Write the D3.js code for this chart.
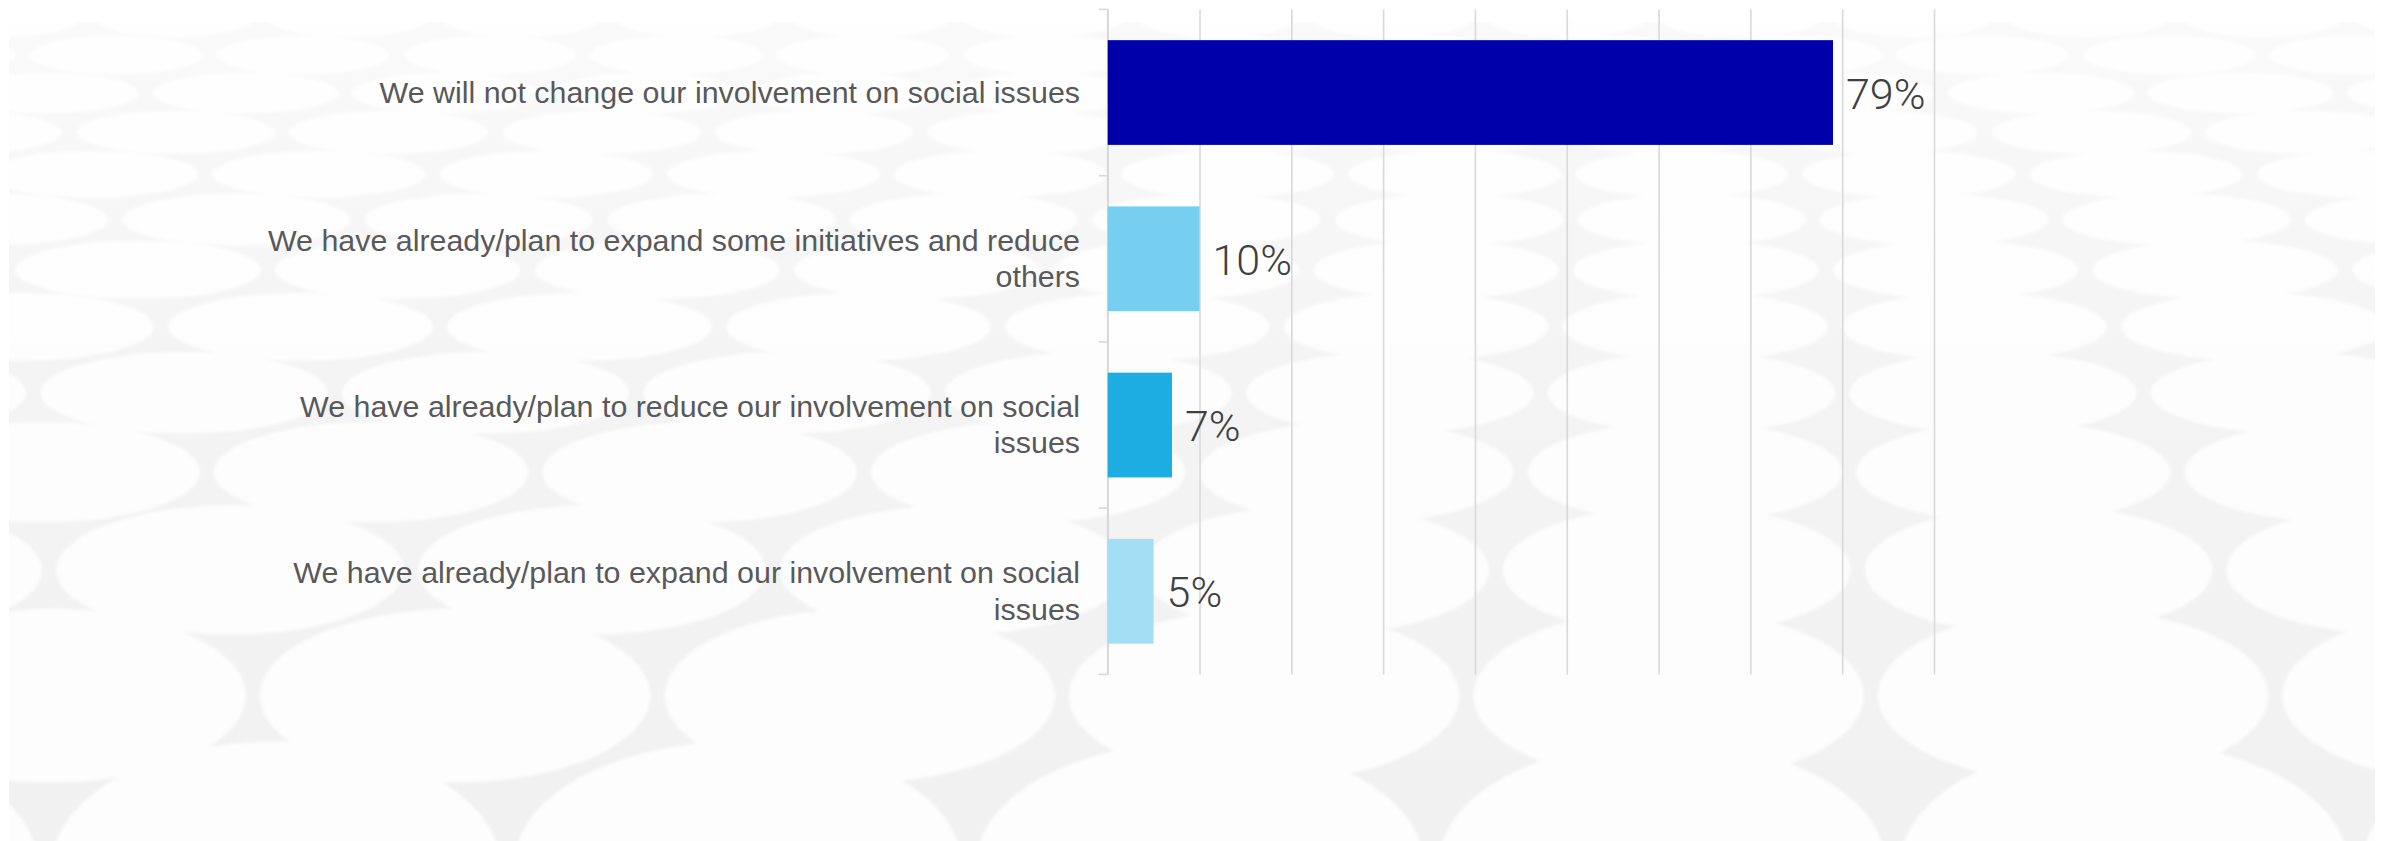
<!DOCTYPE html>
<html>
<head>
<meta charset="utf-8">
<script src="https://cdn.jsdelivr.net/npm/d3@7"></script>
<style>
  html, body { margin: 0; padding: 0; background: #ffffff; }
  svg { display: block; }
</style>
</head>
<body>
<svg id="chart" width="2389" height="841"></svg>
<script>
// Survey answers, shares in percent
const categories = [
  "We will not change our involvement on social issues",
  "We have already/plan to expand some initiatives and reduce others",
  "We have already/plan to reduce our involvement on social issues",
  "We have already/plan to expand our involvement on social issues"
];
const values = [79, 10, 7, 5];
const barColors = ["#0000AA", "#76CEF1", "#1DADE3", "#A3DEF4"];
const xTicks = [0, 10, 20, 30, 40, 50, 60, 70, 80, 90];

const W = 2389, H = 841;
const svg = d3.select("#chart");

// ---- decorative background: soft white discs on a light grey field ----
const defs = svg.append("defs");
defs.append("filter").attr("id", "soft")
  .attr("x", "-10%").attr("y", "-10%").attr("width", "120%").attr("height", "120%")
  .append("feGaussianBlur").attr("stdDeviation", 1.6);
const fade = defs.append("linearGradient").attr("id", "fade")
  .attr("x1", 0).attr("y1", 0).attr("x2", 0).attr("y2", 1);
fade.append("stop").attr("offset", "0%").attr("stop-color", "#fff").attr("stop-opacity", 0.6);
fade.append("stop").attr("offset", "45%").attr("stop-color", "#fff").attr("stop-opacity", 0.2);
fade.append("stop").attr("offset", "100%").attr("stop-color", "#fff").attr("stop-opacity", 0);
defs.append("clipPath").attr("id", "bgclip")
  .append("rect").attr("x", 9).attr("y", 22).attr("width", 2366).attr("height", H - 22);

const bg = svg.append("g").attr("clip-path", "url(#bgclip)");
bg.append("rect").attr("x", 9).attr("y", 22).attr("width", 2366).attr("height", H - 22)
  .attr("fill", "#f1f1f1");

const discs = [];
{
  let cy = 18, row = 0;
  while (cy < H + 120) {
    const rx = 80 + 0.17 * (cy - 18);
    const ry = 19 + 0.00014 * cy * cy;
    const pitch = 2 * rx + 14;
    const shift = (row % 2) * pitch / 2 + row * 23;
    for (let cx = -pitch + (shift % pitch); cx < W + pitch; cx += pitch) {
      discs.push({ cx, cy, rx, ry });
    }
    cy += ry * 1.95;
    row++;
  }
}
bg.append("g").attr("filter", "url(#soft)")
  .selectAll("ellipse").data(discs).join("ellipse")
  .attr("cx", d => d.cx).attr("cy", d => d.cy)
  .attr("rx", d => d.rx).attr("ry", d => d.ry)
  .attr("fill", "#fdfdfd");
bg.append("rect").attr("x", 9).attr("y", 22).attr("width", 2366).attr("height", H - 22)
  .attr("fill", "url(#fade)");

// ---- plot area ----
const plotLeft = 1107.7, plotTop = 9.4, plotW = 826.3, plotH = 665;
const g = svg.append("g").attr("transform", `translate(${plotLeft},${plotTop})`);

const x = d3.scaleLinear().domain([0, 90]).range([0, plotW]);
const y = d3.scaleBand().domain(categories).range([0, plotH])
  .paddingInner(0.37).paddingOuter(0.185);

// vertical gridlines
const grid = g.append("g")
  .call(d3.axisBottom(x).tickValues(xTicks).tickSize(plotH).tickFormat(""));
grid.select(".domain").remove();
grid.selectAll(".tick line").attr("stroke", "#d9d9d9").attr("stroke-width", 1.6);

// category axis with tick marks between categories
const bounds = d3.range(categories.length + 1).map(i => i * y.step());
const yAxis = g.append("g");
yAxis.append("line").attr("x1", 0).attr("x2", 0).attr("y1", 0).attr("y2", plotH)
  .attr("stroke", "#d9d9d9").attr("stroke-width", 1.6);
yAxis.selectAll("line.tk").data(bounds).join("line").attr("class", "tk")
  .attr("x1", -9).attr("x2", 0).attr("y1", d => d).attr("y2", d => d)
  .attr("stroke", "#d9d9d9").attr("stroke-width", 1.6);

// bars
const rows = categories.map((c, i) => ({ c, v: values[i], color: barColors[i] }));
g.selectAll("rect.bar").data(rows).join("rect").attr("class", "bar")
  .attr("x", x(0)).attr("y", d => y(d.c))
  .attr("width", d => x(d.v) - x(0)).attr("height", y.bandwidth())
  .attr("fill", d => d.color);

// value labels
g.selectAll("text.val").data(rows).join("text").attr("class", "val")
  .attr("x", d => x(d.v) + 13)
  .attr("y", d => y(d.c) + y.bandwidth() / 2 + 16)
  .attr("font-family", "Roboto, sans-serif").attr("font-weight", 300)
  .attr("font-size", 43).attr("fill", "#404040")
  .text(d => d.v + "%");

// category labels, wrapped to a fixed width and centred on their band
const wrapWidth = 850, lineH = 36.5;
const labels = g.selectAll("text.cat").data(rows).join("text").attr("class", "cat")
  .attr("text-anchor", "end")
  .attr("font-family", "'Liberation Sans', Arial, sans-serif")
  .attr("font-size", 30.4).attr("fill", "#595959");

labels.each(function (d) {
  const t = d3.select(this);
  const words = d.c.split(" ");
  const lines = [];
  let cur = [];
  const probe = t.append("tspan");
  words.forEach(w => {
    const test = cur.concat(w).join(" ");
    probe.text(test);
    if (probe.node().getComputedTextLength() > wrapWidth && cur.length) {
      lines.push(cur.join(" "));
      cur = [w];
    } else {
      cur.push(w);
    }
  });
  lines.push(cur.join(" "));
  probe.remove();
  const cy = y(d.c) + y.bandwidth() / 2;
  const first = cy + 10 - (lines.length - 1) * lineH / 2;
  lines.forEach((ln, i) => {
    t.append("tspan").attr("x", -27.7).attr("y", first + i * lineH).text(ln);
  });
});
</script>
</body>
</html>
